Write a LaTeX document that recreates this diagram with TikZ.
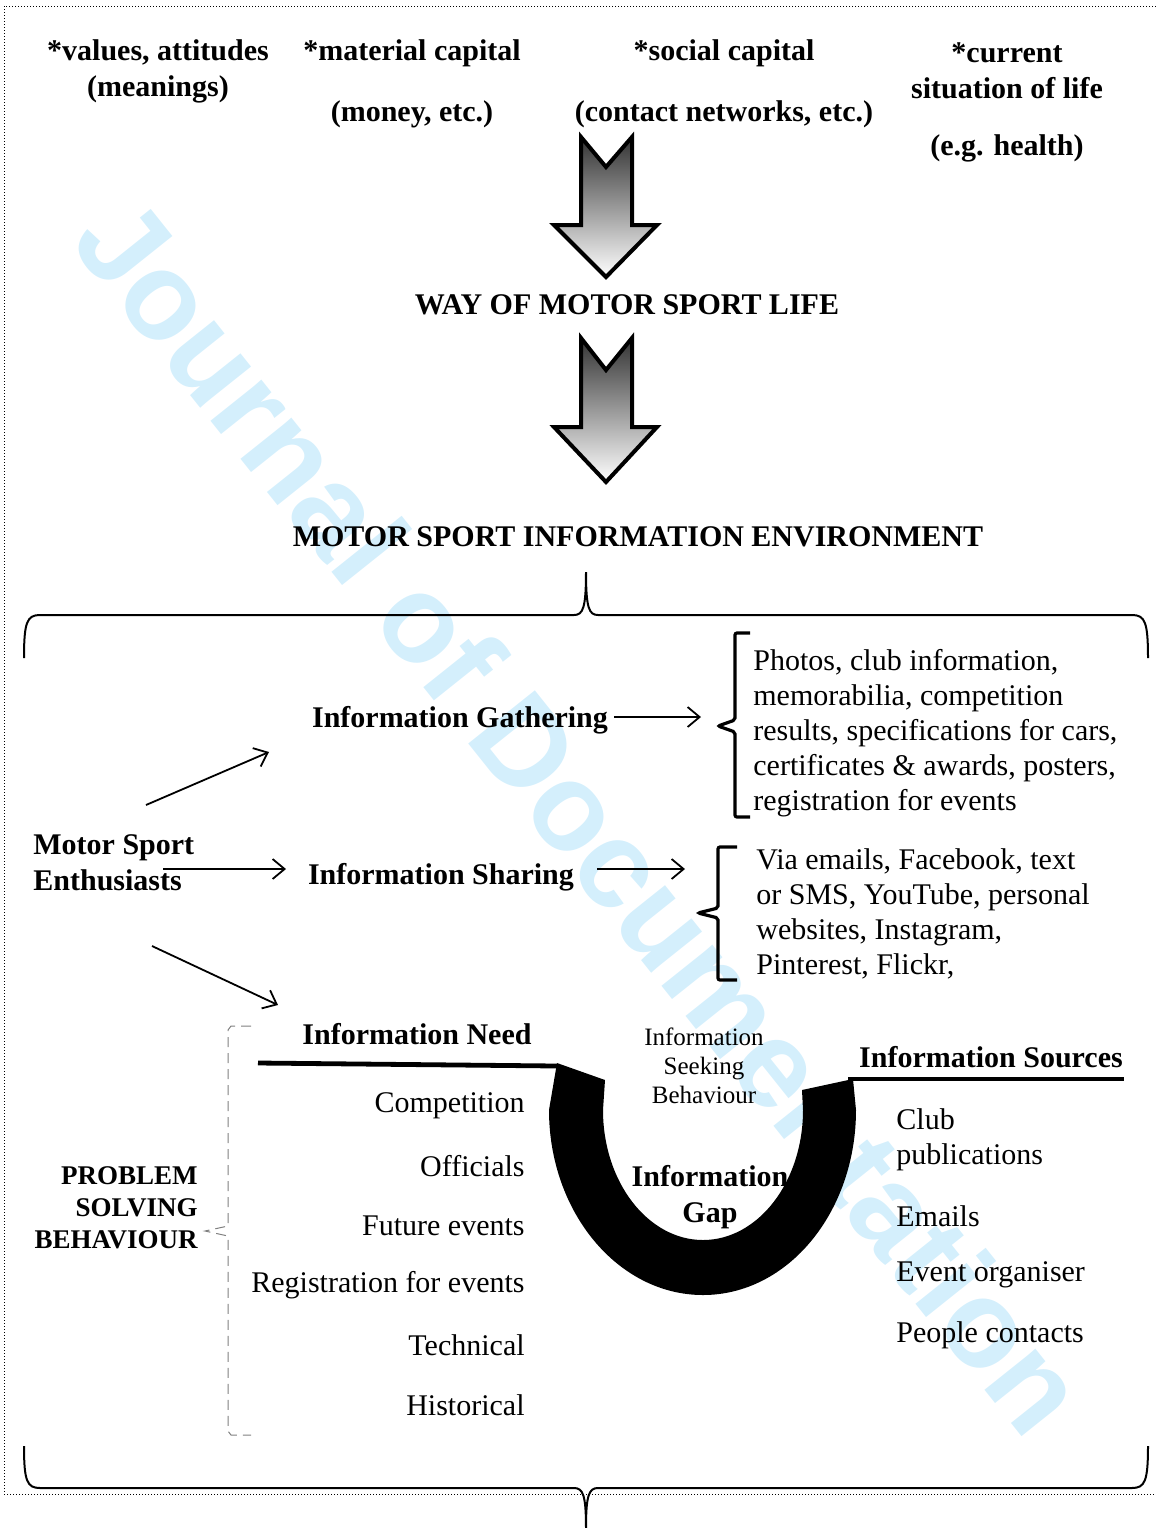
\documentclass[tikz,border=0pt]{standalone}
\usepackage{fontspec}
\setmainfont{Liberation Serif}
\newfontfamily\wmfont{Liberation Sans}
\usetikzlibrary{arrows.meta,positioning,calc}
\definecolor{wmcyan}{RGB}{212,239,252}
\tikzset{
    heading/.style={
        font=\fontsize{15}{18}\selectfont\bfseries,
        align=center,
        inner sep=0pt,
    },
    listtxt/.style={
        font=\fontsize{15}{17.5}\selectfont,
        align=left,
        inner sep=0pt,
    },
    smalltxt/.style={
        font=\fontsize{12.5}{14.5}\selectfont,
        align=center,
        inner sep=0pt,
    },
    blockarrow/.style={
        draw=black,
        line width=2pt,
        line join=miter,
        top color=black!80,
        bottom color=white,
    },
    brace/.style={
        draw=black,
        line width=1pt,
    },
    bracket/.style={
        draw=black,
        line width=1.6pt,
        rounded corners=1pt,
    },
    gapline/.style={
        draw=black,
        line width=2.4pt,
    },
    every edge/.style={
        draw,
        -{Straight Barb[length=6pt,width=10pt]},
        line width=0.9pt,
    },
    watermark/.style={
        font=\wmfont\bfseries\fontsize{62}{62}\selectfont,
        text=wmcyan,
        rotate=-51.4,
        inner sep=0pt,
    },
}

\begin{document}
\begin{tikzpicture}[x=0.5pt,y=-0.5pt]
    \useasboundingbox (0,0) rectangle (1156,1528);
    \node [watermark] (wm) at (582,815) {Journal of Documentation};
    \draw [densely dotted, line width=0.5pt] (1156,6) -- (4,6) -- (4,1494) -- (1156,1494);

    % life way
    \node [heading] (values) at (158,71) {*values, attitudes\\(meanings)};
    \node [heading] (matcap) at (412,53) {*material capital};
    \node [heading] (money) at (412,114) {(money, etc.)};
    \node [heading] (soccap) at (724,53) {*social capital};
    \node [heading] (contacts) at (724,114) {(contact networks, etc.)};
    \node [heading] (current) at (1007,71) {*current\\situation of life};
    \node [heading] (health) at (1007,148) {(e.g. health)};

    \draw [blockarrow] (581,137) -- (606,167) -- (632,137) -- (632,225) -- (657,225) -- (606,277) -- (554,225) -- (581,225) -- cycle;
    \node [heading] (way) at (627,305) {WAY OF MOTOR SPORT LIFE};
    \draw [blockarrow] (581,338) -- (606,370) -- (632,338) -- (632,427) -- (657,427) -- (606,482) -- (554,427) -- (581,427) -- cycle;
    \node [heading] (env) at (638,537) {MOTOR SPORT INFORMATION ENVIRONMENT};

    \draw [brace] (24,658) .. controls (24,622) and (27,615) .. (40,615) -- (574,615)
        .. controls (583,615) and (586,608) .. (586,572) .. controls (586,608) and (589,615) .. (598,615)
        -- (1132,615) .. controls (1145,615) and (1148,622) .. (1148,658);
    \draw [brace] (24,1446) .. controls (24,1481) and (27,1488) .. (40,1488) -- (574,1488)
        .. controls (583,1488) and (586,1495) .. (586,1528) .. controls (586,1495) and (589,1488) .. (598,1488)
        -- (1132,1488) .. controls (1145,1488) and (1148,1481) .. (1148,1446);

    % enthusiasts
    \node [heading, align=left, anchor=west] (ms) at (33,863) {Motor Sport\\Enthusiasts};
    \node [heading] (gath) at (460,720) {Information Gathering};
    \node [heading] (share) at (441,877) {Information Sharing};
    \node [listtxt, anchor=west] (photos) at (753,733) {Photos, club information,\\memorabilia, competition\\results, specifications for cars,\\certificates \& awards, posters,\\registration for events};
    \node [listtxt, anchor=west] (via) at (756,914) {Via emails, Facebook, text\\or SMS, YouTube, personal\\websites, Instagram,\\Pinterest, Flickr,};
    \draw [bracket] (750,633) -- (735,633) -- (735,720) -- (718,726) -- (735,732) -- (735,817) -- (750,817);
    \draw [bracket] (737,847) -- (718,847) -- (718,908) -- (698,913) -- (718,918) -- (718,980) -- (737,980);

    \coordinate (msup) at (146,805);
    \coordinate (gathin) at (269,752);
    \coordinate (msmid) at (163,869);
    \coordinate (sharein) at (286,869);
    \coordinate (msdown) at (152,946);
    \coordinate (needin) at (278,1005);
    \coordinate (gathstart) at (614,717);
    \coordinate (gathout) at (701,717);
    \coordinate (sharestart) at (597,869);
    \coordinate (shareout) at (685,869);
    \draw (msup) edge (gathin);
    \draw (msmid) edge (sharein);
    \draw (msdown) edge (needin);
    \draw (gathstart) edge (gathout);
    \draw (sharestart) edge (shareout);

    % information gap
    \fill [black] (557,1063) -- (605,1080) -- (603,1110) .. controls (603,1182) and (648,1240) .. (703,1240)
        .. controls (758,1240) and (803,1182) .. (803,1110) -- (802,1090) -- (853,1079) -- (856,1110)
        .. controls (856,1212) and (788,1295) .. (703,1295) .. controls (618,1295) and (549,1212) .. (549,1110) -- cycle;
    \draw [gapline] (258,1063) -- (557,1066);
    \draw [gapline, line width=2pt] (848,1079) -- (1124,1079);
    \node [heading] (need) at (417,1034) {Information Need};
    \node [smalltxt] (seek) at (704,1066) {Information\\Seeking\\Behaviour};
    \node [heading] (gap) at (710,1197) {Information\\Gap};
    \node [heading] (sources) at (991,1057) {Information Sources};

    \node [listtxt, anchor=east] (competition) at (525,1106) {Competition};
    \node [listtxt, anchor=east] (officials) at (525,1166) {Officials};
    \node [listtxt, anchor=east] (future) at (525,1226) {Future events};
    \node [listtxt, anchor=east] (registration) at (525,1285) {Registration for events};
    \node [listtxt, anchor=east] (technical) at (525,1345) {Technical};
    \node [listtxt, anchor=east] (historical) at (525,1405) {Historical};

    \node [listtxt, anchor=west] (club) at (896,1140) {Club\\publications};
    \node [listtxt, anchor=west] (emails) at (896,1216) {Emails};
    \node [listtxt, anchor=west] (organiser) at (896,1275) {Event organiser};
    \node [listtxt, anchor=west] (people) at (896,1335) {People contacts};

    % problem solving
    \node [heading, align=right, anchor=east, font=\fontsize{13.5}{16}\selectfont\bfseries] (problem) at (198,1208) {PROBLEM\\SOLVING\\BEHAVIOUR};
    \draw [gray, dashed, dash pattern=on 5pt off 3pt, line width=0.5pt] (251,1026) -- (231,1026) -- (228,1030) -- (228,1226)
        -- (205,1231) -- (228,1236) -- (228,1431) -- (231,1435) -- (251,1435);
\end{tikzpicture}
\end{document}
